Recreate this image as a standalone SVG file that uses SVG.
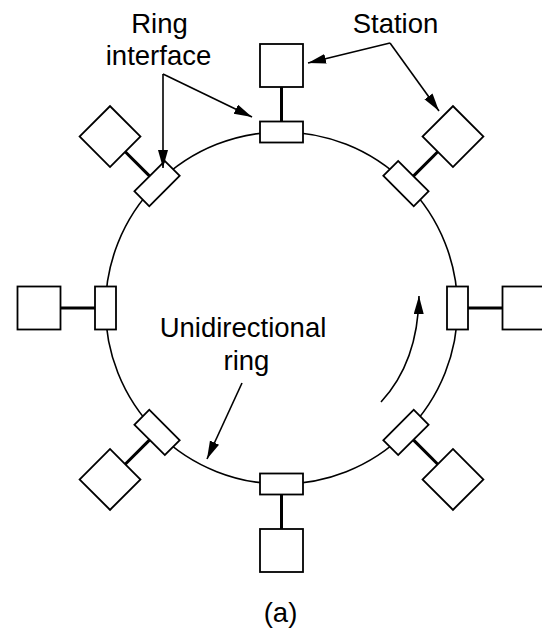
<svg xmlns="http://www.w3.org/2000/svg" xmlns:xlink="http://www.w3.org/1999/xlink" width="542" height="631" viewBox="0 0 542 631">
<style>
.box{fill:#fff;stroke:#000;stroke-width:1.8}
.link{stroke:#000;stroke-width:3;fill:none}
.ring{fill:none;stroke:#000;stroke-width:1.6}
.arrow{fill:none;stroke:#000;stroke-width:1.6;marker-end:url(#ah)}
text{font-family:"Liberation Sans",Arial,sans-serif;font-size:27.5px;fill:#000;text-anchor:middle}
</style>
<defs>
<marker id="ah" markerUnits="userSpaceOnUse" markerWidth="20" markerHeight="12" refX="18" refY="5" orient="auto">
<path d="M0,0 L18,5 L0,10 z" fill="#000"/>
</marker>
<g id="node">
<line class="link" x1="0" y1="-221" x2="0" y2="-186.5"/>
<rect class="box" x="-21.5" y="-264" width="43" height="43"/>
<rect class="box" x="-21.5" y="-186.5" width="43" height="21"/>
</g>
</defs>
<circle id="ring" class="ring" cx="281.5" cy="308" r="176"/>
<g id="node-n"><use xlink:href="#node" transform="translate(281.5 308)"/></g>
<g id="node-ne"><use xlink:href="#node" transform="translate(281.5 308) rotate(45)"/></g>
<g id="node-e"><use xlink:href="#node" transform="translate(281.5 308) rotate(90)"/></g>
<g id="node-se"><use xlink:href="#node" transform="translate(281.5 308) rotate(135)"/></g>
<g id="node-s"><use xlink:href="#node" transform="translate(281.5 308) rotate(180)"/></g>
<g id="node-sw"><use xlink:href="#node" transform="translate(281.5 308) rotate(225)"/></g>
<g id="node-w"><use xlink:href="#node" transform="translate(281.5 308) rotate(270)"/></g>
<g id="node-nw"><use xlink:href="#node" transform="translate(281.5 308) rotate(315)"/></g>
<g id="connectors">
<path class="arrow" d="M163,74 L163,168"/>
<path class="arrow" d="M163,74 L252,117"/>
<path class="arrow" d="M390,43 L308,63"/>
<path class="arrow" d="M390,43 L439,111"/>
<path class="arrow" d="M242,383 L207,459"/>
<path class="arrow" d="M381,402 Q418,362 419,296"/>
</g>
<g id="labels">
<text x="159.5" y="33">Ring</text>
<text x="158.5" y="65">interface</text>
<text x="395.5" y="33">Station</text>
<text x="243" y="337">Unidirectional</text>
<text x="246.5" y="370">ring</text>
<text x="280.5" y="622">(a)</text>
</g>
</svg>
